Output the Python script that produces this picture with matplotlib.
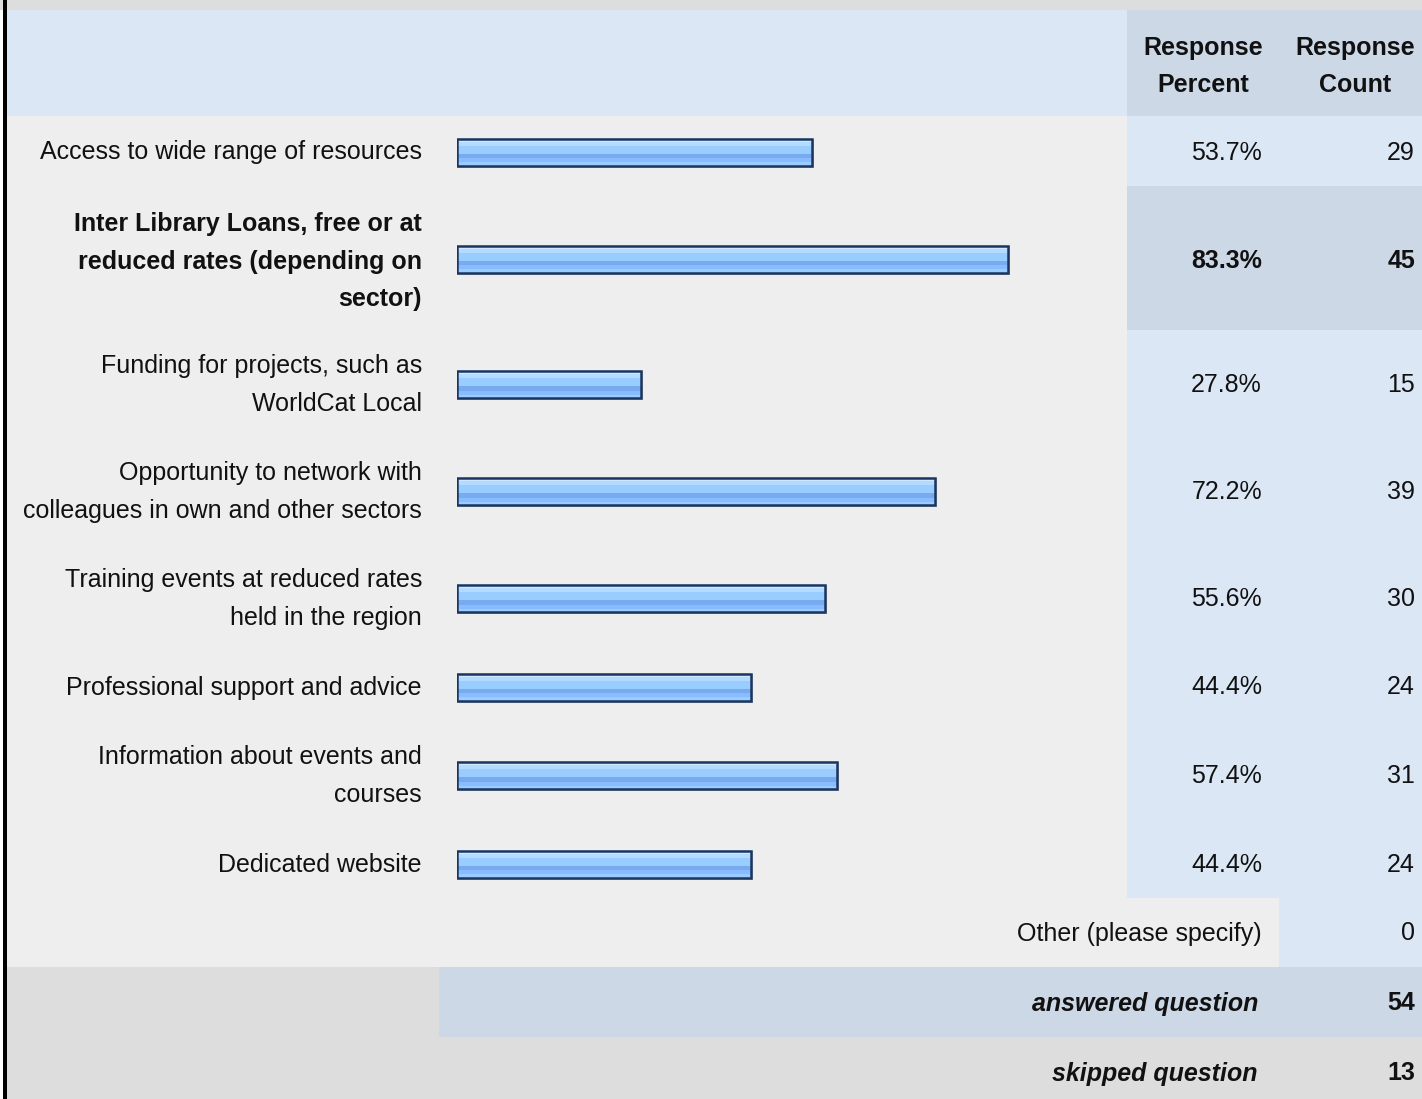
import matplotlib
matplotlib.use("Agg")
import matplotlib.pyplot as plt
from matplotlib.patches import Rectangle

# ---------------- data ----------------
categories = [
    "Access to wide range of resources",
    "Inter Library Loans, free or at\nreduced rates (depending on\nsector)",
    "Funding for projects, such as\nWorldCat Local",
    "Opportunity to network with\ncolleagues in own and other sectors",
    "Training events at reduced rates\nheld in the region",
    "Professional support and advice",
    "Information about events and\ncourses",
    "Dedicated website",
]
percents = [53.7, 83.3, 27.8, 72.2, 55.6, 44.4, 57.4, 44.4]
counts = [29, 45, 15, 39, 30, 24, 31, 24]
highlight_index = 1
header_labels = ["Response\nPercent", "Response\nCount"]
other_label = "Other (please specify)"
other_count = 0
answered_label = "answered question"
answered_count = 54
skipped_label = "skipped question"
skipped_count = 13

# ---------------- style ----------------
W, H = 1422, 1099
FONT = "Liberation Sans"
FS = 18
LIGHT_BLUE = "#DCE7F5"
DARK_BLUE = "#CCD8E6"
LABEL_BG = "#EEEEEE"
FOOT_GRAY = "#DDDDDD"
BORDER = "#1C355E"

fig = plt.figure(figsize=(W / 100, H / 100), dpi=100)
bg = fig.add_axes([0, 0, 1, 1])
bg.set_xlim(0, W)
bg.set_ylim(H, 0)
bg.axis("off")


def rect(x, y, w, h, c):
    bg.add_patch(Rectangle((x, y), w, h, facecolor=c, edgecolor="none", zorder=0))


def txt(x, y_center, s, ha="right", weight="normal", style="normal", pitch=37.5):
    lines = s.split("\n")
    n = len(lines)
    for i, ln in enumerate(lines):
        yc = y_center + (i - (n - 1) / 2) * pitch
        bg.text(x, yc + 8.5, ln, ha=ha, va="baseline", fontsize=FS,
                family=FONT, weight=weight, style=style, color="#111111", zorder=5)


rect(0, 0, W, H, "white")
rect(0, 0, W, 10, FOOT_GRAY)
# header
LEFT = 6
COL = 1127
rect(LEFT, 10, COL - LEFT, 106, LIGHT_BLUE)
rect(COL, 10, W - COL, 106, DARK_BLUE)
txt(1203, 65, header_labels[0], ha="center", weight="bold", pitch=38)
txt(1355, 65, header_labels[1], ha="center", weight="bold", pitch=38)

# data rows
y = 116
centers = []
for i, cat in enumerate(categories):
    n = cat.count("\n") + 1
    h = 70 + 37 * (n - 1)
    hl = i == highlight_index
    rect(LEFT, y, COL - LEFT, h, LABEL_BG)
    rect(COL, y, W - COL, h, DARK_BLUE if hl else LIGHT_BLUE)
    c = y + h / 2
    centers.append(c)
    w = "bold" if hl else "normal"
    txt(422, c + (2 if hl else 0), cat, weight=w)
    txt(1262, c + (2 if hl else 0), f"{percents[i]:.1f}%", weight=w)
    txt(1415, c + (2 if hl else 0), f"{counts[i]}", weight=w)
    y += h

# other row
rect(LEFT, y, 1279 - LEFT, 69, LABEL_BG)
rect(1279, y, W - 1279, 69, LIGHT_BLUE)
txt(1262, y + 34, other_label)
txt(1415, y + 34, f"{other_count}")
y += 69
# answered
rect(LEFT, y, 439 - LEFT, 70, FOOT_GRAY)
rect(439, y, W - 439, 70, DARK_BLUE)
txt(1258, y + 35, answered_label, weight="bold", style="italic")
txt(1415, y + 35, f"{answered_count}", weight="bold")
y += 70
# skipped
rect(LEFT, y, W - LEFT, H - y + 5, FOOT_GRAY)
txt(1258, y + 35, skipped_label, weight="bold", style="italic")
txt(1415, y + 35, f"{skipped_count}", weight="bold")

# left border
rect(3, 0, 3.5, H, "black")

# ---------------- bars ----------------
PX_PER_PCT = 6.62
x0 = 457
ax = fig.add_axes([x0 / W, 0, 100 * PX_PER_PCT / W, 1])
ax.set_xlim(0, 100)
ax.set_ylim(H, 0)
ax.axis("off")
ax.patch.set_visible(False)

BAR_H = 29
yc = [c + 1 for c in centers]
# shadow
ax.barh([v + 1.2 for v in yc], [p + 0.2 for p in percents], height=BAR_H,
        color="#B8BCC4", left=0.1, zorder=1)
# gradient stripes (offset from top, height, colour) in px
stripes = [(0, 4, "#CFE8FF"), (4, 8, "#B3DAFF"), (8, 16, "#99CCFF"),
           (16, 20.7, "#77AAEE"), (20.7, 24.7, "#88BBFF"), (24.7, 29, "#99CCFF")]
for a, b, col in stripes:
    ys = [v - BAR_H / 2 + (a + b) / 2 for v in yc]
    ax.barh(ys, percents, height=b - a, color=col, edgecolor="none", zorder=2)
ax.barh(yc, percents, height=BAR_H - 2, fill=False, edgecolor=BORDER,
        linewidth=1.8, zorder=3)

fig.savefig("out.png", dpi=100)
